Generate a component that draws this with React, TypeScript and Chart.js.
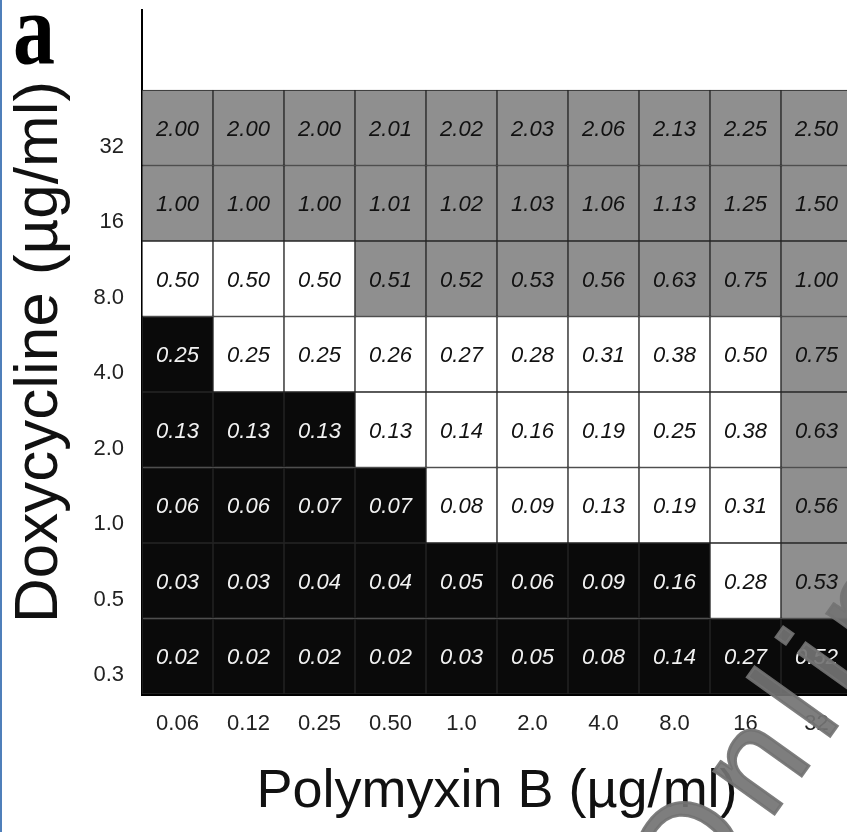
import React, { useEffect, useRef } from 'react';
import { Chart, registerables } from 'chart.js';

Chart.register(...registerables);

// Polymyxin B concentrations (x categories)
const xLabels = ['0.06', '0.12', '0.25', '0.50', '1.0', '2.0', '4.0', '8.0', '16', '32'];
// Doxycycline concentrations (rows, bottom to top)
const yLabels = ['0.3', '0.5', '1.0', '2.0', '4.0', '8.0', '16', '32'];

// Cell values per row (bottom to top)
const row03 = [0.02, 0.02, 0.02, 0.02, 0.03, 0.05, 0.08, 0.14, 0.27, 0.52];
const row05 = [0.03, 0.03, 0.04, 0.04, 0.05, 0.06, 0.09, 0.16, 0.28, 0.53];
const row1 = [0.06, 0.06, 0.07, 0.07, 0.08, 0.09, 0.13, 0.19, 0.31, 0.56];
const row2 = [0.13, 0.13, 0.13, 0.13, 0.14, 0.16, 0.19, 0.25, 0.38, 0.63];
const row4 = [0.25, 0.25, 0.25, 0.26, 0.27, 0.28, 0.31, 0.38, 0.5, 0.75];
const row8 = [0.5, 0.5, 0.5, 0.51, 0.52, 0.53, 0.56, 0.63, 0.75, 1.0];
const row16 = [1.0, 1.0, 1.0, 1.01, 1.02, 1.03, 1.06, 1.13, 1.25, 1.5];
const row32 = [2.0, 2.0, 2.0, 2.01, 2.02, 2.03, 2.06, 2.13, 2.25, 2.5];
const rowValues = [row03, row05, row1, row2, row4, row8, row16, row32];

// Cell class per row (bottom to top): k = black, w = white, g = gray
const cls03 = 'kkkkkkkkkk';
const cls05 = 'kkkkkkkkwg';
const cls1 = 'kkkkwwwwwg';
const cls2 = 'kkkwwwwwwg';
const cls4 = 'kwwwwwwwwg';
const cls8 = 'wwwggggggg';
const cls16 = 'gggggggggg';
const cls32 = 'gggggggggg';
const rowClasses = [cls03, cls05, cls1, cls2, cls4, cls8, cls16, cls32];

const fillColors: Record<string, string> = { k: '#0a0a0a', w: '#ffffff', g: '#8f8f8f' };
const textColors: Record<string, string> = { k: '#f2f2f2', w: '#111111', g: '#111111' };

const cellTextPlugin = {
  id: 'cellText',
  afterDatasetsDraw(chart: any) {
    const ctx = chart.ctx;
    ctx.save();
    ctx.font = 'italic 22px "Liberation Sans", Arial, sans-serif';
    ctx.textAlign = 'center';
    ctx.textBaseline = 'middle';
    chart.data.datasets.forEach((_ds: any, di: number) => {
      const meta = chart.getDatasetMeta(di);
      meta.data.forEach((el: any, i: number) => {
        const p = el.getProps(['x', 'y', 'base'], true);
        ctx.fillStyle = textColors[rowClasses[di][i]];
        ctx.fillText(rowValues[di][i].toFixed(2), p.x, (p.y + p.base) / 2 + 2);
      });
    });
    ctx.restore();
  },
};

const decorPlugin = {
  id: 'decor',
  afterDraw(chart: any) {
    const ctx = chart.ctx;
    ctx.save();
    ctx.fillStyle = '#000';
    ctx.textBaseline = 'alphabetic';
    ctx.textAlign = 'left';
    ctx.font = 'bold 84px "Liberation Serif", "Times New Roman", serif';
    ctx.translate(13, 63);
    ctx.scale(1, 1.22);
    ctx.fillText('a', 0, 0);
    ctx.restore();

    // watermark
    ctx.save();
    ctx.translate(695, 925);
    ctx.rotate(-0.95);
    ctx.font = '140px "Liberation Sans", Arial, sans-serif';
    try {
      (ctx as any).letterSpacing = '18px';
    } catch (e) {
      /* ignore */
    }
    ctx.fillStyle = 'rgba(115,115,115,0.92)';
    ctx.strokeStyle = 'rgba(115,115,115,0.92)';
    ctx.lineWidth = 3;
    ctx.fillText('Online', 0, 0);
    ctx.strokeText('Online', 0, 0);
    ctx.restore();
  },
};

export default function App() {
  const ref = useRef<HTMLCanvasElement | null>(null);
  useEffect(() => {
    document.body.style.margin = '0';
    document.body.style.overflow = 'hidden';
    const canvas = ref.current;
    if (!canvas) return;
    const datasets = yLabels.map((_, r) => ({
      label: yLabels[r],
      data: xLabels.map(() => [r, r + 1]),
      backgroundColor: rowClasses[r].split('').map((c) => fillColors[c]),
      borderColor: '#262626',
      borderWidth: 1,
      borderSkipped: false,
      grouped: false,
      barPercentage: 1,
      categoryPercentage: 1,
    }));
    const chart = new Chart(canvas, {
      type: 'bar',
      data: { labels: xLabels, datasets: datasets as any },
      options: {
        responsive: false,
        animation: false,
        events: [],
        layout: { padding: { top: 10, left: 0, right: 0, bottom: 0 } },
        plugins: { legend: { display: false }, tooltip: { enabled: false } },
        scales: {
          x: {
            type: 'category',
            grid: { display: false },
            border: { display: true, color: '#000', width: 3 },
            ticks: {
              color: '#222',
              padding: 9,
              font: { family: '"Liberation Sans", Arial, sans-serif', size: 22 },
              maxRotation: 0,
              autoSkip: false,
            },
            title: {
              display: true,
              text: 'Polymyxin B (µg/ml)',
              color: '#111',
              font: { family: '"Liberation Sans", Arial, sans-serif', size: 54 },
              padding: { top: 0, bottom: 7 },
            },
            afterFit(scale: any) {
              scale.height = 138;
              scale.paddingLeft = 0;
              scale.paddingRight = 0;
            },
          },
          y: {
            type: 'linear',
            min: 0,
            max: 9.06,
            grid: { display: false },
            border: { display: true, color: '#000', width: 2 },
            afterBuildTicks(scale: any) {
              scale.ticks = yLabels.map((_, i) => ({ value: i + 0.25 }));
            },
            ticks: {
              color: '#222',
              padding: 10,
              font: { family: '"Liberation Sans", Arial, sans-serif', size: 22 },
              callback: (_v: any, i: number) => yLabels[i],
            },
            title: {
              display: true,
              text: 'Doxycycline (µg/ml)',
              color: '#111',
              font: { family: '"Liberation Sans", Arial, sans-serif', size: 62 },
              padding: { top: 3, bottom: 0 },
            },
            afterFit(scale: any) {
              scale.width = 142;
              scale.paddingTop = 0;
              scale.paddingBottom = 0;
            },
          },
        },
      },
      plugins: [cellTextPlugin, decorPlugin],
    });
    return () => chart.destroy();
  }, []);
  return (
    <div style={{ position: 'relative', width: 847, height: 832, overflow: 'hidden', background: '#fff' }}>
      <canvas ref={ref} width={852} height={832} style={{ display: 'block' }} />
      <div style={{ position: 'absolute', left: 0, top: 0, width: 2, height: 832, background: '#4f7fba' }} />
    </div>
  );
}
